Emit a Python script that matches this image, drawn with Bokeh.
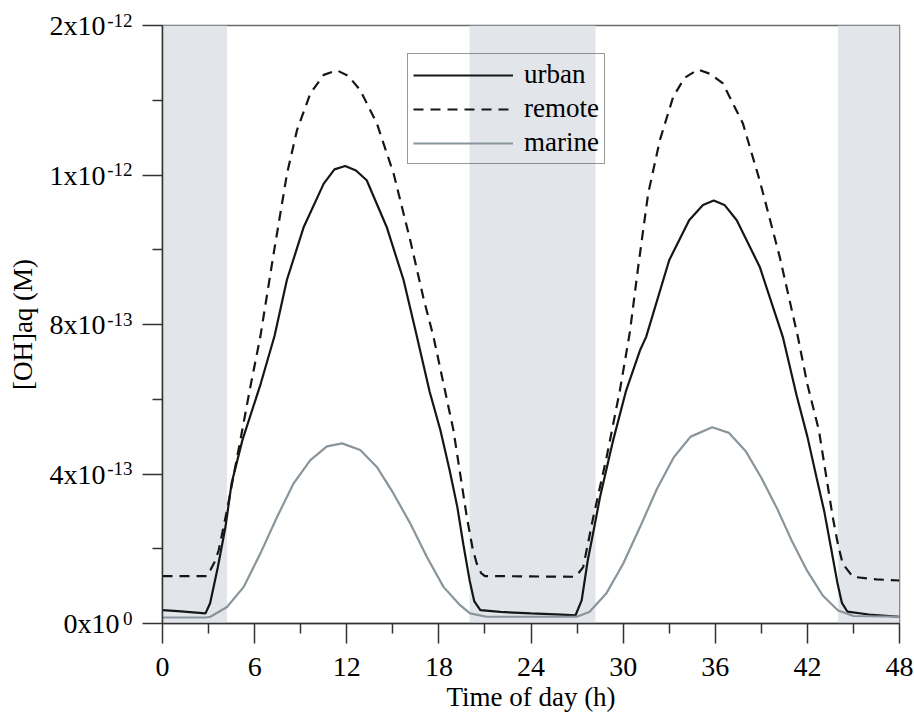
import numpy as np
from bokeh.plotting import figure
from bokeh.models import Range1d, FixedTicker, Legend, LegendItem, LinearAxis
from bokeh.embed import file_html
from bokeh.resources import INLINE

# ---------------- data (values in units of 1e-12 M) ----------------
SCALE = 1e-12

urban_t = [0, 1, 2, 2.8, 3.1, 3.6, 4.1, 4.5, 5.2, 6.4, 7.3, 8.1, 9.2, 10.5, 11.2, 11.9,
           12.6, 13.3, 14.6, 15.7, 16.5, 17.4, 18.1, 18.7, 19.2, 19.6, 20.0, 20.3, 20.7,
           22, 24, 26, 26.9, 27.3, 27.7, 28.0, 28.5, 29.35, 30.2, 31.1, 31.5, 33.0, 34.3,
           35.2, 35.9, 36.6, 37.4, 38.9, 40.4, 41.3, 42.0, 42.6, 43.1, 43.55, 43.95, 44.25,
           44.6, 46, 48]
urban_v = [0.036, 0.033, 0.030, 0.027, 0.054, 0.15, 0.258, 0.375, 0.49, 0.642, 0.77, 0.919,
           1.061, 1.177, 1.215, 1.224, 1.212, 1.186, 1.061, 0.919, 0.78, 0.62, 0.517, 0.41,
           0.312, 0.21, 0.116, 0.06, 0.036, 0.031, 0.027, 0.024, 0.022, 0.062, 0.17, 0.232,
           0.339, 0.49, 0.624, 0.731, 0.767, 0.972, 1.079, 1.12, 1.132, 1.12, 1.079, 0.954,
           0.767, 0.61, 0.5, 0.39, 0.3, 0.2, 0.11, 0.055, 0.032, 0.024, 0.018]

remote_t = [0, 2.9, 3.12, 3.4, 3.66, 4.2, 5.07, 5.72, 6.37, 7.24, 8.11, 8.76, 9.63, 10.5,
            11.36, 12.1, 12.88, 13.96, 15.05, 16.13, 17.0, 17.65, 18.95, 19.82, 20.2, 20.47,
            20.75, 21.0, 24, 26.86, 27.1, 27.4, 28.06, 28.93, 29.79, 30.44, 31.0, 31.63,
            32.39, 33.26, 34.0, 34.88, 35.7, 36.5, 37.8, 38.89, 40.2, 41.38, 42.0, 42.75,
            43.65, 44.0, 44.3, 44.96, 46.5, 48]
remote_v = [0.127, 0.127, 0.143, 0.165, 0.196, 0.303, 0.49, 0.633, 0.767, 0.99, 1.204, 1.32,
            1.418, 1.468, 1.48, 1.465, 1.427, 1.338, 1.204, 1.026, 0.87, 0.767, 0.517, 0.285,
            0.2, 0.16, 0.135, 0.127, 0.126, 0.125, 0.135, 0.151, 0.285, 0.446, 0.624, 0.78,
            0.96, 1.15, 1.293, 1.409, 1.46, 1.482, 1.47, 1.445, 1.338, 1.186, 0.981, 0.767,
            0.64, 0.517, 0.285, 0.21, 0.16, 0.125, 0.118, 0.115]

marine_t = [0, 2.8, 3.12, 4.2, 5.29, 6.37, 7.46, 8.54, 9.63, 10.71, 11.69, 12.88, 13.96,
            15.04, 16.13, 17.22, 18.3, 19.38, 20.03, 21.1, 26.97, 27.8, 28.9, 30.0, 31.1,
            32.2, 33.3, 34.4, 35.8, 36.9, 38.0, 39.0, 40.0, 41.0, 42.0, 43.0, 44.0, 45.0, 48]
marine_v = [0.016, 0.016, 0.018, 0.044, 0.098, 0.187, 0.285, 0.375, 0.437, 0.474, 0.482,
            0.464, 0.419, 0.348, 0.268, 0.178, 0.098, 0.049, 0.027, 0.018, 0.018, 0.031,
            0.08, 0.16, 0.258, 0.36, 0.445, 0.5, 0.525, 0.51, 0.46, 0.39, 0.31, 0.22, 0.14,
            0.075, 0.035, 0.02, 0.018]

night_start = [0, 20.0, 44.0]
night_end = [4.2, 28.2, 48]

x_major_ticks = [0, 6, 12, 18, 24, 30, 36, 42, 48]
x_minor_ticks = [3, 9, 15, 21, 27, 33, 39, 45]
y_major_ticks = [0, 4e-13, 8e-13, 1.2e-12, 1.6e-12]
y_minor_ticks = [2e-13, 6e-13, 1.0e-12, 1.4e-12]
y_tick_mantissa = ["0x10", "4x10", "8x10", "1x10", "2x10"]
y_tick_exponent = ["0", "-13", "-13", "-12", "-12"]

FONT = "Liberation Serif"
Y_MAX = 1.6e-12

p = figure(width=914, height=714, output_backend="svg", toolbar_location=None,
           x_range=Range1d(0, 48), y_range=Range1d(0, Y_MAX),
           min_border_left=162, min_border_right=15, min_border_top=25, min_border_bottom=91)
p.background_fill_color = "white"
p.border_fill_color = "white"
p.xgrid.visible = False
p.ygrid.visible = False
p.outline_line_color = "#6b6b6b"
p.outline_line_width = 1.5

# night shading
p.quad(left=night_start, right=night_end, bottom=0, top=Y_MAX,
       fill_color="#e2e5ea", line_color=None)

u = np.array(urban_v) * SCALE
r = np.array(remote_v) * SCALE
m = np.array(marine_v) * SCALE
ru = p.line(urban_t, u, line_color="#161616", line_width=2.2)
rr = p.line(remote_t, r, line_color="#161616", line_width=2.2, line_dash="10 7")
rm = p.line(marine_t, m, line_color="#8a949b", line_width=2.2)

xax = p.xaxis[0]
yax = p.yaxis[0]
for ax in (xax, yax):
    ax.axis_line_color = "#333333"
    ax.axis_line_width = 1.5
    ax.major_tick_line_color = "#333333"
    ax.minor_tick_line_color = "#333333"
    ax.major_tick_line_width = 1.5
    ax.minor_tick_line_width = 1.5
    ax.major_tick_in = 0
    ax.major_tick_out = 20
    ax.minor_tick_in = 0
    ax.minor_tick_out = 10

xax.ticker = FixedTicker(ticks=x_major_ticks, minor_ticks=x_minor_ticks)
xax.major_label_text_font = FONT
xax.major_label_text_font_size = "28px"
xax.major_label_text_color = "black"
xax.major_label_standoff = 14
xax.axis_label = "Time of day (h)"
xax.axis_label_text_font = FONT
xax.axis_label_text_font_style = "normal"
xax.axis_label_text_font_size = "27px"
xax.axis_label_text_color = "black"
xax.axis_label_standoff = 3

# inner left axis: line and ticks only
yax.ticker = FixedTicker(ticks=y_major_ticks, minor_ticks=y_minor_ticks)
yax.major_label_overrides = {t: "" for t in y_major_ticks}
yax.major_label_text_font_size = "0px"
yax.major_label_standoff = 0

# exponent labels: a second, empty text line lifts them like superscripts
exp_axis = LinearAxis(ticker=FixedTicker(ticks=y_major_ticks, minor_ticks=[]),
                      major_label_overrides={t: e + "\n " for t, e in zip(y_major_ticks, y_tick_exponent)},
                      axis_line_color=None, major_tick_line_color=None,
                      minor_tick_line_color=None, major_tick_in=0, major_tick_out=0,
                      minor_tick_in=0, minor_tick_out=0, major_label_standoff=10,
                      major_label_text_font=FONT, major_label_text_font_size="19px",
                      major_label_text_line_height=0.5,
                      major_label_text_color="black")
p.add_layout(exp_axis, "left")

# mantissa labels + axis title; wide exponents push their mantissa left (nbsp padding)
NBSP = "\u00a0"
man_text = {t: man + (NBSP * 2 if len(ex) > 1 else "")
            for t, man, ex in zip(y_major_ticks, y_tick_mantissa, y_tick_exponent)}
man_axis = LinearAxis(ticker=FixedTicker(ticks=y_major_ticks, minor_ticks=[]),
                      major_label_overrides=man_text,
                      axis_line_color=None, major_tick_line_color=None,
                      minor_tick_line_color=None, major_tick_in=0, major_tick_out=0,
                      minor_tick_in=0, minor_tick_out=0, major_label_standoff=-15,
                      major_label_text_font=FONT, major_label_text_font_size="28px",
                      major_label_text_color="black",
                      axis_label="[OH]aq (M)", axis_label_text_font=FONT,
                      axis_label_text_font_style="normal", axis_label_text_font_size="27px",
                      axis_label_text_color="black", axis_label_standoff=9)
p.add_layout(man_axis, "left")

legend = Legend(items=[LegendItem(label="urban", renderers=[ru]),
                       LegendItem(label="remote", renderers=[rr]),
                       LegendItem(label="marine", renderers=[rm])],
                location=(245, 459))
legend.label_text_font = FONT
legend.label_text_font_size = "27px"
legend.label_text_color = "black"
legend.glyph_width = 100
legend.glyph_height = 28
legend.label_height = 28
legend.spacing = 3
legend.padding = 5
legend.margin = 0
legend.label_standoff = 11
legend.border_line_color = "#333333"
legend.border_line_width = 1.5
legend.background_fill_alpha = 0
p.add_layout(legend)

open("out.html", "w").write(file_html(p, INLINE))
